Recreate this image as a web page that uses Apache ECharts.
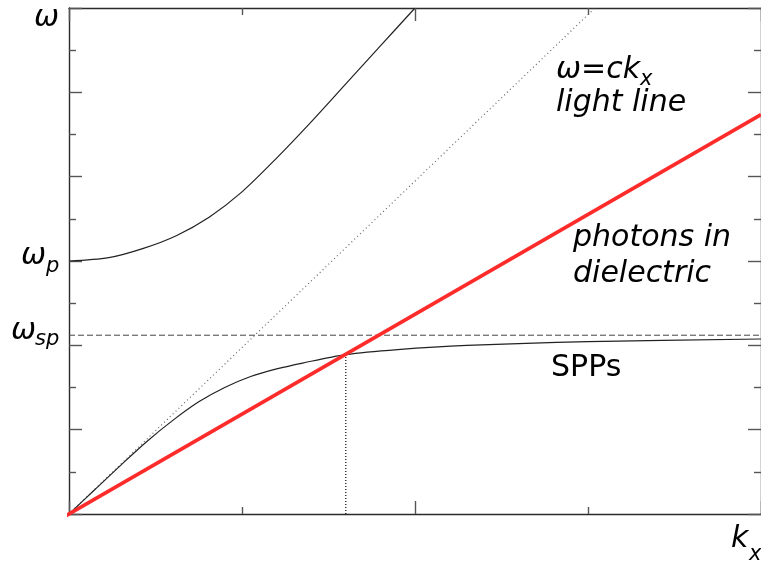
<!DOCTYPE html>
<html>
<head>
<meta charset="utf-8">
<script src="https://cdn.jsdelivr.net/npm/echarts@6/dist/echarts.min.js"></script>
<style>
  html, body { margin: 0; padding: 0; background: #fff; }
  #chart { width: 761px; height: 568px; }
</style>
</head>
<body>
<div id="chart"></div>
<script>
// Dispersion diagram: bulk plasmon branch, surface plasmon polaritons,
// the vacuum light line and the light line in a dielectric.
// Axes are in arbitrary units: k_x from 0 to 4, omega from 0 to 6.

const kRange = [0, 4];
const omegaRange = [0, 6];

// bulk plasmon branch above omega_p  [k_x, omega]
const bulkBranch = [
  [0, 3.0], [0.23, 3.04], [0.43, 3.15], [0.62, 3.30], [0.81, 3.52],
  [1.0, 3.82], [1.2, 4.22], [1.4, 4.65], [1.6, 5.1], [1.8, 5.55], [2.0, 6.0]
];

// surface plasmon polariton branch  [k_x, omega]
const sppBranch = [
  [0, 0], [0.15, 0.29], [0.30, 0.58], [0.45, 0.86], [0.60, 1.11],
  [0.75, 1.33], [0.90, 1.50], [1.05, 1.63], [1.20, 1.72], [1.35, 1.79],
  [1.60, 1.89], [1.90, 1.95], [2.30, 2.00], [3.00, 2.045], [4.0, 2.075]
];

// vacuum light line omega = c k_x
const lightLine = [[0, 0], [3.04, 6.0]];

// light line inside the dielectric
const dielectricLine = [[-0.025, -0.03], [4.0, 4.735]];

// characteristic frequencies
const omegaP = 3.0;
const omegaSP = 2.12;

// where the SPP branch meets the dielectric light line
const crossing = [1.60, 1.89];

const FONT = '"DejaVu Sans", Verdana, sans-serif';

const chart = echarts.init(document.getElementById('chart'), null, { renderer: 'canvas' });

const frameLine = { show: true, onZero: false, lineStyle: { color: '#2a2a2a', width: 1.4 } };
const majorTick = { show: true, inside: true, length: 13, lineStyle: { color: '#555', width: 1.4 } };
const minorTick = { show: true, splitNumber: 2, length: 7, lineStyle: { color: '#555', width: 1.4 } };

function kAxis(position) {
  return {
    type: 'value', position: position, min: kRange[0], max: kRange[1], interval: 2,
    axisLine: frameLine, axisTick: majorTick, minorTick: minorTick,
    axisLabel: { show: false }, splitLine: { show: false }, minorSplitLine: { show: false }
  };
}
function omegaAxis(position) {
  return {
    type: 'value', position: position, min: omegaRange[0], max: omegaRange[1], interval: 1,
    axisLine: frameLine, axisTick: majorTick, minorTick: minorTick,
    axisLabel: { show: false }, splitLine: { show: false }, minorSplitLine: { show: false }
  };
}

function label(text, x, y, size, italic) {
  return {
    type: 'text', x: x, y: y, silent: true,
    style: {
      text: text, fill: '#000',
      font: (italic ? 'italic ' : '') + size + 'px ' + FONT,
      textAlign: 'left', textVerticalAlign: 'middle'
    }
  };
}

const MAIN = 30;
const SUB = 21;

chart.setOption({
  animation: false,
  backgroundColor: '#fff',
  grid: { left: 69, right: -1, top: 8, bottom: 54, containLabel: false },
  xAxis: [kAxis('bottom'), kAxis('top')],
  yAxis: [omegaAxis('left'), omegaAxis('right')],
  series: [
    {
      name: 'bulk', type: 'line', data: bulkBranch, showSymbol: false,
      smooth: 0.3,
      lineStyle: { color: '#222', width: 1.2 }
    },
    {
      name: 'light line', type: 'line', data: lightLine, showSymbol: false,
      lineStyle: { color: '#666', width: 1.2, type: [1, 3] }
    },
    {
      name: 'omega_sp', type: 'line', data: [[kRange[0], omegaSP], [kRange[1], omegaSP]],
      showSymbol: false,
      lineStyle: { color: '#444', width: 1, type: [6, 3] }
    },
    {
      name: 'SPP', type: 'line', data: sppBranch, showSymbol: false,
      smooth: 0.3,
      lineStyle: { color: '#222', width: 1.2 }
    },
    {
      name: 'crossing', type: 'line', data: [[crossing[0], 0], crossing], showSymbol: false,
      lineStyle: { color: '#000', width: 1.2, type: [1, 2] }
    },
    {
      name: 'dielectric', type: 'line', data: dielectricLine, showSymbol: false,
      clip: false,
      lineStyle: { color: '#fe2b2b', width: 3.6 }
    }
  ],
  graphic: [
    label('ω', 34, 18, MAIN, true),
    label('ω', 21, 256, MAIN, true),
    label('p', 46, 266.5, SUB, true),
    label('ω', 11, 331, MAIN, true),
    label('sp', 35, 340, SUB, true),
    label('ω=ck', 556, 70, MAIN, true),
    label('x', 640, 80, SUB, true),
    label('light line', 556, 103.5, MAIN, true),
    label('photons in', 573, 238, MAIN, true),
    label('dielectric', 573, 274, MAIN, true),
    label('SPPs', 551, 368, MAIN, false),
    label('k', 731, 539.5, MAIN, true),
    label('x', 749, 555, SUB, true)
  ]
});
</script>
</body>
</html>
